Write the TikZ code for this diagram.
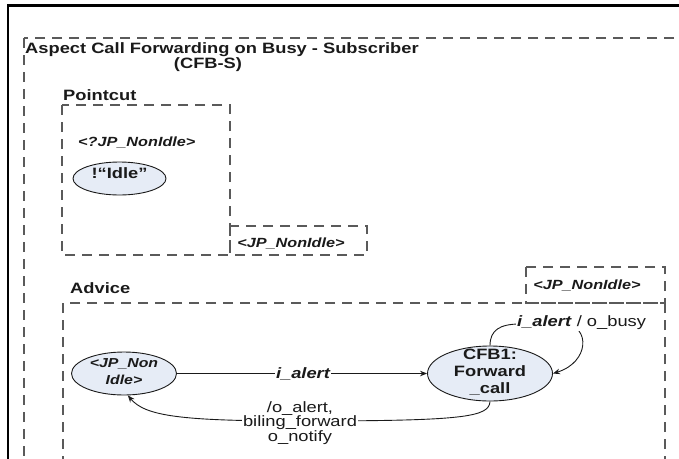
\documentclass[tikz,border=0pt]{standalone}
\usepackage{fontspec}
\setmainfont{Liberation Sans}[FakeStretch=1.22]
\usetikzlibrary{arrows.meta,shapes.geometric}
\definecolor{stfill}{HTML}{E6ECF6}
\definecolor{dashgray}{HTML}{5A5A5A}
\definecolor{ink}{HTML}{1A1A1A}
\begin{document}
\begin{tikzpicture}[x=1pt,y=-1pt,
  frame/.style={line width=2.5pt,black},
  dbox/.style={draw=dashgray, line width=1.2pt, dash pattern=on 10pt off 7pt},
  stshape/.style={ellipse, draw=ink, line width=0.9pt, fill=stfill, inner sep=0pt},
  sttext/.style={align=center, inner sep=0pt, text=ink, font=\bfseries\fontsize{15}{17}\selectfont},
  hd/.style={font=\bfseries\fontsize{15}{15}\selectfont, inner sep=0pt, text=ink},
  jp/.style={font=\bfseries\itshape\fontsize{13.3}{15}\selectfont, inner sep=0pt, text=ink},
  conn/.style={draw=ink, line width=0.9pt, -{Stealth[length=7pt,width=5.5pt]}},
  lbl/.style={fill=white, inner sep=1.5pt, align=center, text=ink, font=\fontsize{15}{14.5}\selectfont},
]
\useasboundingbox (0,0) rectangle (679,458);
\clip (0,0) rectangle (679,458);

% black frame
\draw[frame] (681,5.5) -- (8,5.5) -- (8,462);

% outer aspect box
\draw[dbox] (24,38) rectangle (720,500);
\node[hd, anchor=west] (title) at (25,50) {Aspect Call Forwarding on Busy - Subscriber};
\node[hd] (subtitle) at (208,65) {(CFB-S)};

% pointcut
\node[hd, anchor=west] (pclabel) at (63,95) {Pointcut};
\draw[dbox] (62,105) rectangle (230,255);
\draw[dbox] (230,226) rectangle (367,255);
\node[jp] (pcjp) at (291,243) {<JP\_NonIdle>};
\node[jp, anchor=west] (pcq) at (78,142) {<?JP\_NonIdle>};
\node[stshape, minimum width=93pt, minimum height=33pt] (idle) at (119.5,178.5) {};
\node[sttext] (idletext) at (119.5,173) {!“Idle”};

% advice
\node[hd, anchor=west] (advlabel) at (70,288) {Advice};
\draw[dbox] (63,303) rectangle (665,500);
\draw[dbox] (526,267) rectangle (665,303);
\node[jp] (advjp) at (587,285) {<JP\_NonIdle>};

% states
\node[stshape, minimum width=105pt, minimum height=43pt] (A) at (124,373.5) {};
\node[jp, align=center, font=\bfseries\itshape\fontsize{13}{17}\selectfont] (Atext) at (124,371.5) {<JP\_Non\\Idle>};
\node[stshape, minimum width=125pt, minimum height=55pt] (B) at (490,373.5) {};
\node[sttext] (Btext) at (490,372) {CFB1:\\Forward\\\_call};

% A -> B
\draw[conn] (A) -- (B) node[lbl, midway, xshift=1pt, font=\bfseries\itshape\fontsize{15}{15}\selectfont] (ialert) {i\_alert};

% self loop on B
\coordinate (lp) at (520,324);
\coordinate (lq) at (565,324);
\draw[conn] (B.north) .. controls (490,330) and (500,324) .. (lp) -- (lq)
  .. controls (590,326) and (590,362) .. (B.east);
\node[lbl, anchor=west, inner sep=1pt] (looplabel) at (516,323) {\textbf{\textit{i\_alert}} / o\_busy};

% B -> A
\coordinate (bm) at (300,421);
\draw[conn] (B.south) .. controls (489,417) and (465,421) .. (bm)
  .. controls (180,421) and (145,416) .. (A.-80);
\node[lbl, inner sep=1pt] (backlabel) at (300,423) {/o\_alert,\\biling\_forward\\o\_notify};
\end{tikzpicture}
\end{document}
